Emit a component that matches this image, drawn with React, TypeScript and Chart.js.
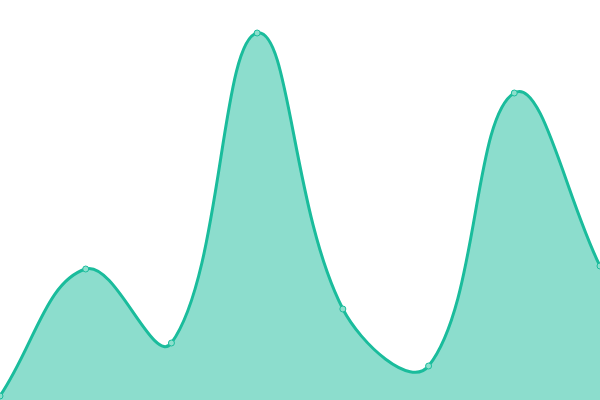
import React, { useEffect, useRef } from "react";
import { Chart, registerables } from "chart.js";

Chart.register(...registerables);

const labels = ["1", "2", "3", "4", "5", "6", "7", "8"];
const values = [1, 32.75, 14.25, 91.75, 22.75, 8.5, 76.75, 33.5];

const green = "#1abc9c";
const greenFill = "rgba(26, 188, 156, 0.5)";
const pointFill = "#8ddfcd";

const App = () => {
  const chartRef = useRef<HTMLCanvasElement>(null);

  useEffect(() => {
    document.body.style.margin = "0";
    const chartInstance = new Chart(chartRef.current as HTMLCanvasElement, {
      type: "line",
      data: {
        labels,
        datasets: [
          {
            data: values,
            borderColor: green,
            backgroundColor: greenFill,
            borderWidth: 3,
            fill: "start",
            tension: 0.4,
            pointRadius: 3,
            pointBorderWidth: 1,
            pointBackgroundColor: pointFill,
            pointBorderColor: green
          }
        ]
      },
      options: {
        animation: false,
        responsive: true,
        maintainAspectRatio: false,
        layout: { padding: 0 },
        plugins: {
          legend: { display: false },
          tooltip: { enabled: false }
        },
        scales: {
          x: { display: false },
          y: { display: false, min: 0, max: 100 }
        }
      }
    });

    return () => {
      chartInstance.destroy();
    };
  }, []);

  // the chart keeps a small inset round its area, so push it out of view
  return (
    <div style={{ width: 600, height: 400, position: "relative", overflow: "hidden" }}>
      <div style={{ position: "absolute", left: -5, top: -5, width: 610, height: 410 }}>
        <canvas ref={chartRef} />
      </div>
    </div>
  );
};

export default App;
